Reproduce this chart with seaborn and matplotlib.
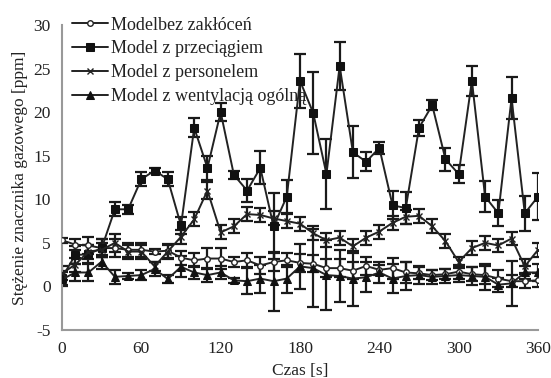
import numpy as np
import pandas as pd
import matplotlib
matplotlib.use("Agg")
import matplotlib.pyplot as plt
import seaborn as sns

time_s = list(range(0, 361, 10))

bez = [5.3, 4.8, 4.7, 4.4, 4.4, 4.2, 4.2, 4.0, 4.1, 3.3, 3.0, 3.2, 3.2, 2.8, 3.0, 2.4, 2.8, 3.0,
       2.7, 2.6, 2.1, 2.1, 1.8, 2.35, 1.9, 2.1, 1.6, 1.5, 1.3, 1.4, 1.7, 1.4, 1.3, 0.9, 0.6, 0.6, 0.7]
bez_err = [0.3, 0.6, 1.0, 1.0, 1.0, 0.8, 0.8, 0.3, 0.8, 0.8, 0.8, 1.2, 1.2, 0.6, 0.8, 1.0, 1.0, 0.8,
           1.0, 1.0, 1.0, 1.0, 1.0, 1.0, 0.6, 1.2, 1.2, 0.7, 0.6, 0.6, 0.8, 0.8, 1.0, 1.0, 0.7, 0.8, 0.8]

przeciag = [1.0, 3.6, 3.7, 4.4, 8.85, 8.85, 12.3, 13.3, 12.3, 7.0, 18.2, 13.6, 20.0, 12.8, 11.0, 13.6,
            6.9, 10.3, 23.6, 19.9, 12.9, 25.3, 15.4, 14.3, 15.9, 9.3, 9.0, 18.2, 20.8, 14.6, 12.9,
            23.6, 10.3, 8.4, 21.6, 8.4, 10.3]
przeciag_err = [0.8, 1.0, 1.0, 1.0, 0.8, 0.5, 0.8, 0.3, 0.8, 1.0, 1.1, 1.4, 1.0, 0.5, 1.3, 1.9,
                3.8, 1.9, 3.1, 4.7, 4.0, 2.8, 3.0, 1.1, 0.7, 1.6, 1.8, 0.9, 0.6, 1.3, 1.0,
                1.7, 1.8, 1.5, 2.4, 2.0, 2.7]

personel = [1.5, 2.5, 4.0, 4.2, 5.0, 4.0, 4.0, 2.3, 4.0, 5.7, 7.7, 11.0, 6.2, 6.9, 8.3, 8.2, 7.8, 7.5,
            7.2, 6.1, 5.3, 5.6, 4.6, 5.6, 6.3, 7.3, 8.0, 8.1, 6.9, 5.2, 2.8, 4.4, 5.0, 4.7, 5.5, 2.3, 4.2]
personel_err = [0.8, 0.8, 0.8, 0.8, 1.0, 0.8, 0.8, 0.5, 0.8, 0.8, 0.8, 1.0, 0.8, 0.8, 0.8, 0.8, 0.8, 0.8,
                0.8, 0.8, 0.8, 0.8, 0.8, 0.8, 0.8, 0.8, 0.8, 0.8, 0.8, 0.8, 0.6, 0.8, 0.8, 0.8, 0.8, 0.8, 0.8]

wentyl = [0.8, 1.6, 1.6, 2.85, 1.1, 1.2, 1.3, 2.0, 0.85, 2.25, 1.6, 1.3, 1.6, 0.7, 0.6, 0.9, 0.6, 0.9,
          2.3, 2.1, 1.3, 1.2, 0.9, 1.05, 1.6, 0.9, 1.2, 1.3, 1.1, 1.2, 1.3, 1.2, 1.1, 0.2, 0.35, 1.6, 1.6]
wentyl_err = [0.8, 1.0, 1.0, 0.8, 0.8, 0.3, 0.6, 0.8, 0.5, 1.2, 0.8, 0.8, 0.8, 0.3, 1.5, 1.6, 3.4, 1.6,
              2.6, 4.5, 4.0, 3.0, 3.2, 1.7, 1.2, 1.7, 1.6, 1.0, 0.8, 0.8, 0.8, 1.0, 1.5, 0.8, 2.6, 0.8, 1.0]

labels = ["Modelbez zakłóceń", "Model z przeciągiem", "Model z personelem", "Model z wentylacją ogólną"]
x_ticks = [0, 60, 120, 180, 240, 300, 360]
y_ticks = [-5, 0, 5, 10, 15, 20, 25, 30]

sns.set_theme(style="white")
plt.rcParams['font.family'] = ['Liberation Serif', 'DejaVu Serif']
plt.rcParams['axes.unicode_minus'] = False

fig = plt.figure(figsize=(5.51, 3.78), dpi=100)
ax = fig.add_axes([62 / 551, 48 / 378, 476 / 551, 305 / 378])

series = [
    (bez, bez_err, dict(marker='o', markersize=4, markerfacecolor='white', markeredgecolor='#222222', markeredgewidth=1.0)),
    (przeciag, przeciag_err, dict(marker='s', markersize=6, markerfacecolor='#111111', markeredgecolor='#111111')),
    (personel, personel_err, dict(marker='x', markersize=5, markeredgecolor='#222222', markeredgewidth=1.0)),
    (wentyl, wentyl_err, dict(marker='^', markersize=6, markerfacecolor='#111111', markeredgecolor='#111111')),
]

for (vals, errs, mk), lab in zip(series, labels):
    df = pd.DataFrame({"t": time_s, "v": vals})
    ax.errorbar(time_s, vals, yerr=errs, fmt='none', ecolor='#1a1a1a', elinewidth=1.6,
                capsize=4, capthick=1.6, zorder=2)
    sns.lineplot(data=df, x="t", y="v", ax=ax, color='#222222', linewidth=1.4, label=lab,
                 zorder=3, **mk)

ax.set_xlim(0, 360)
ax.set_ylim(-5, 30)
ax.set_xticks(x_ticks)
ax.set_yticks(y_ticks)
ax.tick_params(axis='both', length=0, labelsize=12.5, colors='#222222', pad=8)
ax.set_xlabel("Czas [s]", fontsize=12.5, color='#222222', labelpad=4)
ax.set_ylabel("Stężenie znacznika gazowego [ppm]", fontsize=12.5, color='#222222', labelpad=4)
for side in ['top', 'right']:
    ax.spines[side].set_visible(False)
for side in ['left', 'bottom']:
    ax.spines[side].set_color('#999999')
    ax.spines[side].set_linewidth(1.5)

leg = ax.legend(loc='upper left', bbox_to_anchor=(-0.002, 1.063), frameon=False, fontsize=13,
                handlelength=2.0, labelspacing=0.38, handletextpad=0.15, borderaxespad=0.2)
for t in leg.get_texts():
    t.set_color('#222222')

fig.savefig("out.png", dpi=100)
